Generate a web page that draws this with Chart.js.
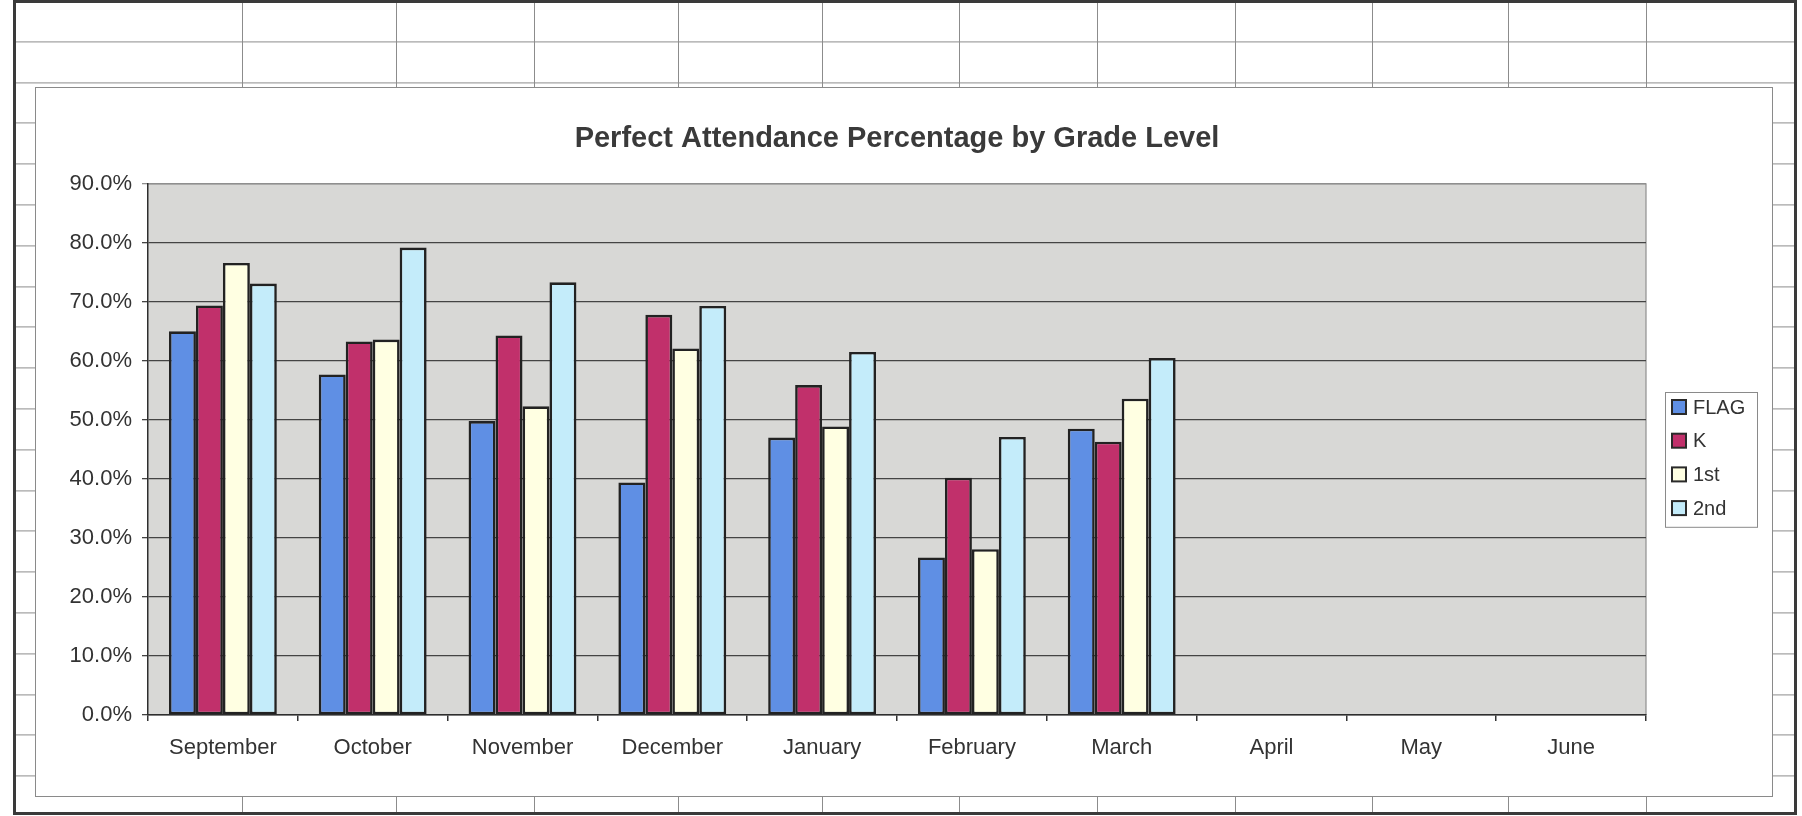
<!DOCTYPE html>
<html>
<head>
<meta charset="utf-8">
<title>Perfect Attendance Percentage by Grade Level</title>
<script src="https://cdn.jsdelivr.net/npm/chart.js@4"></script>
<style>
  html, body { margin: 0; padding: 0; background: #fff; }
  body { width: 1802px; height: 816px; position: relative; overflow: hidden;
         font-family: 'Liberation Sans', Arial, sans-serif; }
  /* spreadsheet behind the chart */
  #sheet { position: absolute; left: 13px; top: 0; width: 1778px; height: 809px;
           border: 3px solid #3a3a3a;
           background-image: repeating-linear-gradient(to bottom, transparent 0, transparent 39.8px, #8c8c8c 39.8px, #8c8c8c 40.8px);
           background-position: 0 -1.6px; }
  .col { position: absolute; top: 0; bottom: 0; width: 1px; background: #8c8c8c; }
  #box { position: absolute; left: 35px; top: 87px; width: 1736px; height: 708px;
         border: 1px solid #8a8a8a; background: #fff; }
  canvas { display: block; }
</style>
</head>
<body>
<div id="sheet"></div>
<div id="box"><canvas id="attendanceChart" width="1736" height="708"></canvas></div>

<script>
// --------------- Data ---------------
const TITLE  = 'Perfect Attendance Percentage by Grade Level';
const months = ['September', 'October', 'November', 'December', 'January',
                'February', 'March', 'April', 'May', 'June'];

const flag   = [65.0, 57.7, 49.8, 39.4, 47.0, 26.7, 48.5, null, null, null];
const kinder = [69.4, 63.3, 64.3, 67.8, 55.9, 40.2, 46.3, null, null, null];
const first  = [76.6, 63.6, 52.3, 62.1, 48.9, 28.1, 53.6, null, null, null];
const second = [73.1, 79.2, 73.3, 69.3, 61.5, 47.1, 60.5, null, null, null];

const SERIES = [
  { label: 'FLAG', data: flag,   color: '#5f8fe4' },
  { label: 'K',    data: kinder, color: '#c1306b' },
  { label: '1st',  data: first,  color: '#ffffe2' },
  { label: '2nd',  data: second, color: '#c4ecfa' },
];

const Y_MAX  = 90;
const Y_STEP = 10;

const FONT = "'Liberation Sans', Arial, Helvetica, sans-serif";
const TEXT = '#333333';

// --------------- Sheet grid columns (decoration) ---------------
const sheetCols = [242, 396, 534, 678, 822, 959, 1097, 1235, 1372, 1508, 1646];
const sheet = document.getElementById('sheet');
sheetCols.forEach(x => {
  const d = document.createElement('div');
  d.className = 'col';
  d.style.left = (x - 16) + 'px';
  sheet.appendChild(d);
});

// --------------- Plot background, frame & boxed legend ---------------
const plotFrame = {
  id: 'plotFrame',
  beforeDraw(chart) {
    const { ctx, chartArea: a } = chart;
    ctx.save();
    ctx.fillStyle = '#d8d8d6';
    ctx.fillRect(a.left, a.top, a.width, a.height);
    ctx.strokeStyle = '#8f8f8f';
    ctx.lineWidth = 1.2;
    ctx.beginPath();
    ctx.moveTo(a.left, a.top);
    ctx.lineTo(a.right, a.top);
    ctx.lineTo(a.right, a.bottom);
    ctx.stroke();
    ctx.restore();
  },
  afterDraw(chart) {
    const { ctx, chartArea: a } = chart;
    const sets = chart.data.datasets;
    const rowH = 33.7;
    const boxW = 92;
    const boxH = rowH * sets.length;
    const left = a.right + 19;
    const top  = (a.top + a.bottom) / 2 - boxH / 2 + 10;

    ctx.save();
    ctx.strokeStyle = '#8a8a8a';
    ctx.lineWidth = 1;
    ctx.strokeRect(left + 0.5, top + 0.5, boxW, boxH);

    ctx.font = '20px ' + FONT;
    ctx.textBaseline = 'middle';
    ctx.textAlign = 'left';
    sets.forEach((ds, i) => {
      const cy = top + 15 + i * rowH;
      ctx.fillStyle = ds.backgroundColor;
      ctx.fillRect(left + 7, cy - 7, 14, 14);
      ctx.strokeStyle = '#2a2a2a';
      ctx.lineWidth = 2;
      ctx.strokeRect(left + 7, cy - 7, 14, 14);
      ctx.fillStyle = TEXT;
      ctx.fillText(ds.label, left + 28, cy + 1);
    });
    ctx.restore();
  },
};

// --------------- Chart ---------------
new Chart(document.getElementById('attendanceChart').getContext('2d'), {
  type: 'bar',
  data: {
    labels: months,
    datasets: SERIES.map(s => ({
      label:              s.label,
      data:               s.data,
      backgroundColor:    s.color,
      borderColor:        '#222222',
      borderWidth:        2.6,
      borderSkipped:      false,
      categoryPercentage: 0.72,
      barPercentage:      1,
    })),
  },
  options: {
    responsive: false,
    animation: false,
    layout: { padding: { left: 0, right: 126, top: 0, bottom: 0 } },
    plugins: {
      legend:  { display: false },
      tooltip: { enabled: false },
      title: {
        display:  true,
        text:     TITLE,
        fullSize: false,
        color:    '#3a3a3a',
        font:     { size: 29, weight: 'bold', family: FONT },
        padding:  { top: 34, bottom: 27 },
      },
    },
    scales: {
      x: {
        grid:   { display: true, drawOnChartArea: false, drawTicks: true, tickLength: 6,
                  color: '#333', lineWidth: 1.5, offset: true },
        border: { display: true, color: '#2e2e2e', width: 1.5 },
        ticks:  { color: TEXT, font: { size: 22, family: FONT }, padding: 14,
                  maxRotation: 0, autoSkip: false },
        afterFit: s => { s.height = 81; },
      },
      y: {
        min: 0,
        max: Y_MAX,
        grid:   { color: c => (c.tick && c.tick.value === Y_MAX) ? '#8f8f8f' : '#444444',
                  lineWidth: 1.3, tickLength: 6, drawTicks: true },
        border: { color: '#2e2e2e', width: 1.5 },
        ticks:  { stepSize: Y_STEP, color: TEXT, font: { size: 22, family: FONT }, padding: 10,
                  callback: v => Number(v).toFixed(1) + '%' },
        afterFit: s => { s.width = 112; },
      },
    },
  },
  plugins: [plotFrame],
});
</script>
</body>
</html>
